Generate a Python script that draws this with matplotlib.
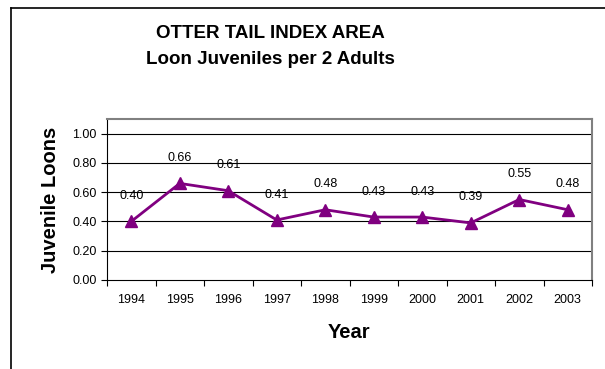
import matplotlib
matplotlib.use('Agg')
import matplotlib.pyplot as plt
from matplotlib.lines import Line2D

plt.rcParams['font.family'] = ['Liberation Sans', 'DejaVu Sans']

years = ['1994', '1995', '1996', '1997', '1998', '1999', '2000', '2001', '2002', '2003']
juveniles = [0.40, 0.66, 0.61, 0.41, 0.48, 0.43, 0.43, 0.39, 0.55, 0.48]
yticks = [0.0, 0.2, 0.4, 0.6, 0.8, 1.0]

W, H = 605, 369
fig = plt.figure(figsize=(W / 100, H / 100), dpi=100)
ax = fig.add_axes([107 / W, 1 - 280 / H, 485 / W, 161 / H])

x = list(range(len(years)))
ax.plot(x, juveniles, color='#800080', linewidth=2, marker='^', markersize=8,
        zorder=3, clip_on=False)
for xi, v in zip(x, juveniles):
    ax.annotate(f'{v:.2f}', (xi, v), xytext=(0, 14), textcoords='offset points',
                ha='center', va='bottom', fontsize=9)

ax.set_xlim(-0.5, len(years) - 0.5)
ax.set_ylim(0, 1.1)
ax.set_yticks(yticks)
ax.set_yticklabels([f'{t:.2f}' for t in yticks], fontsize=9)
ax.set_xticks([i - 0.5 for i in range(len(years) + 1)])
ax.set_xticklabels([])
ax.set_xticks(x, minor=True)
ax.set_xticklabels(years, minor=True, fontsize=9)
ax.tick_params(axis='x', which='minor', length=0, pad=10)
ax.tick_params(axis='x', which='major', length=4, direction='out', color='black')
ax.tick_params(axis='y', length=4, direction='out', color='black')
for t in yticks[1:]:
    ax.axhline(t, color='black', linewidth=0.8, zorder=1)

ax.spines['top'].set_color('#808080')
ax.spines['right'].set_color('#808080')
ax.spines['top'].set_linewidth(1.5)
ax.spines['right'].set_linewidth(1.5)
ax.spines['left'].set_color('black')
ax.spines['bottom'].set_color('black')

ax.set_xlabel('Year', fontsize=14.5, fontweight='bold', labelpad=12)
ax.set_ylabel('Juvenile Loons', fontsize=14.5, fontweight='bold', labelpad=9)

fig.text(270 / W, 1 - 33 / H, 'OTTER TAIL INDEX AREA', ha='center', va='center',
         fontsize=13.5, fontweight='bold')
fig.text(270 / W, 1 - 60 / H, 'Loon Juveniles per 2 Adults', ha='center', va='center',
         fontsize=13.5, fontweight='bold')

# outer chart border (cropped on right and bottom)
fig.add_artist(Line2D([11 / W, 11 / W], [0, 1 - 8 / H], color='black', linewidth=1.2))
fig.add_artist(Line2D([11 / W, 1], [1 - 8 / H, 1 - 8 / H], color='black', linewidth=1.2))

fig.savefig('out.png', dpi=100)
